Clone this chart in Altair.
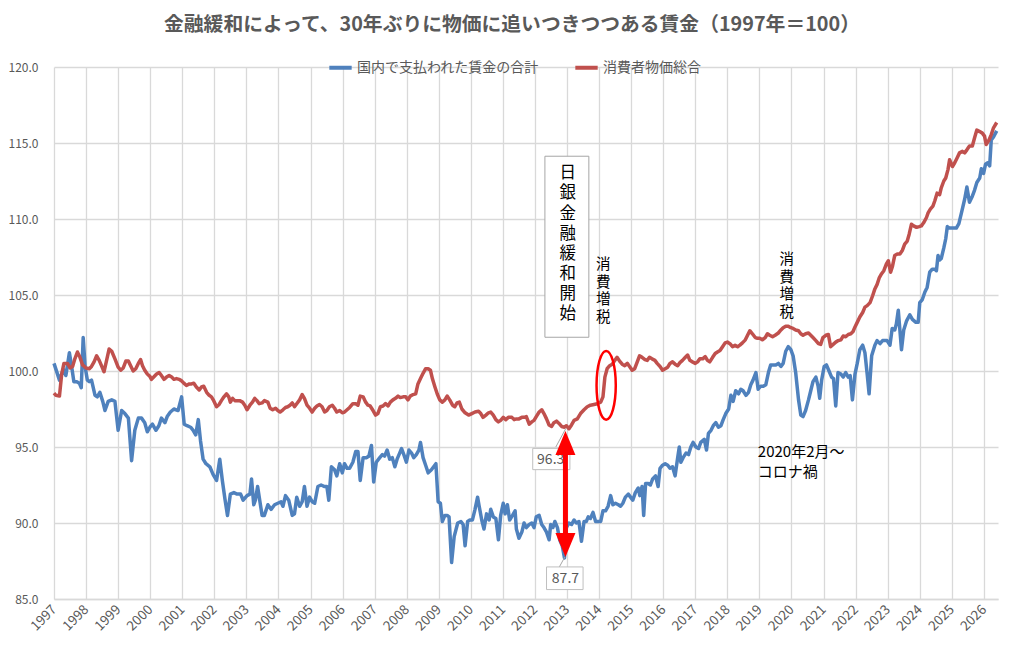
import altair as alt
import pandas as pd

FONT = "Noto Sans CJK JP"
GRID = "#d9d9d9"
TXT = "#595959"

# series (decimal year, index 1997=100)
wage_t = [
    1997.00, 1997.17, 1997.29, 1997.37, 1997.48, 1997.55, 1997.62, 1997.71, 1997.79, 1997.85,
    1997.91, 1997.97, 1998.04, 1998.10, 1998.17, 1998.28, 1998.35, 1998.43, 1998.52, 1998.59,
    1998.69, 1998.80, 1998.90, 1999.00, 1999.11, 1999.21, 1999.32, 1999.42, 1999.52, 1999.63,
    1999.73, 1999.83, 1999.91, 1999.99, 2000.07, 2000.18, 2000.27, 2000.35, 2000.46, 2000.53,
    2000.63, 2000.74, 2000.87, 2000.98, 2001.06, 2001.15, 2001.26, 2001.34, 2001.42, 2001.50,
    2001.57, 2001.65, 2001.74, 2001.86, 2001.96, 2002.07, 2002.17, 2002.25, 2002.33, 2002.41,
    2002.50, 2002.61, 2002.71, 2002.82, 2002.90, 2003.02, 2003.11, 2003.16, 2003.23, 2003.28,
    2003.35, 2003.43, 2003.49, 2003.56, 2003.67, 2003.77, 2003.88, 2003.98, 2004.08, 2004.14,
    2004.22, 2004.32, 2004.43, 2004.50, 2004.57, 2004.66, 2004.74, 2004.81, 2004.89, 2004.97,
    2005.05, 2005.13, 2005.23, 2005.33, 2005.44, 2005.51, 2005.57, 2005.65, 2005.75, 2005.82,
    2005.91, 2005.99, 2006.06, 2006.14, 2006.22, 2006.32, 2006.41, 2006.48, 2006.55, 2006.64,
    2006.74, 2006.82, 2006.90, 2006.97, 2007.05, 2007.16, 2007.24, 2007.31, 2007.39, 2007.47,
    2007.55, 2007.63, 2007.70, 2007.78, 2007.84, 2007.91, 2007.99, 2008.07, 2008.15, 2008.22,
    2008.30, 2008.38, 2008.43, 2008.51, 2008.59, 2008.67, 2008.77, 2008.84, 2008.91, 2008.98,
    2009.05, 2009.11, 2009.19, 2009.26, 2009.32, 2009.40, 2009.48, 2009.59, 2009.69, 2009.76,
    2009.82, 2009.90, 2009.97, 2010.05, 2010.13, 2010.21, 2010.26, 2010.34, 2010.41, 2010.49,
    2010.57, 2010.62, 2010.70, 2010.78, 2010.86, 2010.93, 2011.01, 2011.07, 2011.14, 2011.21,
    2011.30, 2011.38, 2011.42, 2011.50, 2011.59, 2011.66, 2011.73, 2011.82, 2011.90, 2011.97,
    2012.04, 2012.13, 2012.21, 2012.28, 2012.36, 2012.44, 2012.49, 2012.56, 2012.62, 2012.70,
    2012.77, 2012.85, 2012.92, 2012.98, 2013.06, 2013.14, 2013.22, 2013.29, 2013.37, 2013.45,
    2013.53, 2013.60, 2013.66, 2013.73, 2013.81, 2013.89, 2013.97, 2014.05, 2014.12, 2014.20,
    2014.28, 2014.36, 2014.43, 2014.51, 2014.60, 2014.67, 2014.74, 2014.82, 2014.91, 2014.98,
    2015.05, 2015.13, 2015.22, 2015.27, 2015.34, 2015.39, 2015.45, 2015.53, 2015.60, 2015.67,
    2015.76, 2015.84, 2015.90, 2015.98, 2016.06, 2016.14, 2016.21, 2016.29, 2016.37, 2016.45,
    2016.50, 2016.55, 2016.62, 2016.71, 2016.79, 2016.86, 2016.93, 2017.02, 2017.10, 2017.17,
    2017.28, 2017.35, 2017.41, 2017.49, 2017.56, 2017.64, 2017.72, 2017.80, 2017.87, 2017.95,
    2018.04, 2018.11, 2018.18, 2018.26, 2018.35, 2018.42, 2018.49, 2018.58, 2018.66, 2018.73,
    2018.80, 2018.89, 2018.96, 2019.04, 2019.12, 2019.20, 2019.28, 2019.35, 2019.43, 2019.51,
    2019.59, 2019.67, 2019.74, 2019.82, 2019.90, 2019.98, 2020.05, 2020.13, 2020.22, 2020.29,
    2020.36, 2020.44, 2020.53, 2020.60, 2020.67, 2020.76, 2020.83, 2020.88, 2020.94, 2021.02,
    2021.09, 2021.17, 2021.25, 2021.31, 2021.38, 2021.45, 2021.54, 2021.61, 2021.69, 2021.77,
    2021.83, 2021.90, 2021.98, 2022.05, 2022.13, 2022.22, 2022.29, 2022.36, 2022.42, 2022.50,
    2022.60, 2022.67, 2022.76, 2022.84, 2022.91, 2022.98, 2023.07, 2023.14, 2023.22, 2023.27,
    2023.33, 2023.38, 2023.43, 2023.50, 2023.59, 2023.69, 2023.77, 2023.88, 2023.95, 2024.00,
    2024.08, 2024.16, 2024.23, 2024.31, 2024.39, 2024.47, 2024.52, 2024.57, 2024.62, 2024.67,
    2024.75, 2024.81, 2024.86, 2024.93, 2025.04, 2025.14, 2025.22, 2025.30, 2025.40, 2025.47,
    2025.55, 2025.64, 2025.71, 2025.78, 2025.87, 2025.92, 2025.99, 2026.05, 2026.12, 2026.18,
    2026.23, 2026.30, 2026.40,
]
wage_v = [
    100.5, 99.4, 100.1, 99.7, 101.2, 100.3, 99.3, 99.3, 99.2, 98.9,
    102.2, 100.3, 99.4, 99.3, 99.4, 98.4, 98.3, 98.6, 98.0, 97.4,
    98.0, 98.1, 98.0, 96.1, 97.4, 97.2, 96.9, 94.1, 96.1, 96.9,
    96.9, 96.6, 96.0, 96.3, 96.5, 96.1, 96.4, 96.9, 96.6, 97.0,
    97.3, 97.5, 97.4, 98.3, 96.5, 96.4, 96.3, 96.1, 95.8, 96.8,
    95.4, 94.2, 93.9, 93.7, 93.2, 92.8, 94.2, 92.8, 91.6, 90.5,
    91.9, 92.0, 91.9, 91.9, 91.5, 91.8, 91.9, 92.9, 91.2, 91.5,
    92.4, 91.3, 90.5, 90.5, 91.2, 90.9, 91.2, 91.3, 91.4, 91.1,
    91.8, 91.5, 90.5, 90.6, 91.7, 91.1, 91.4, 92.4, 91.1, 91.7,
    91.4, 91.3, 92.4, 92.5, 92.4, 92.4, 91.5, 93.7, 93.5, 93.1,
    93.9, 93.3, 93.9, 93.6, 93.6, 94.0, 94.7, 94.7, 92.8, 94.3,
    94.3, 94.4, 95.1, 92.7, 94.0, 94.3, 94.5, 94.4, 94.8, 94.2,
    94.3, 93.7, 94.2, 94.6, 94.9, 94.5, 94.0, 94.8, 94.6, 94.3,
    94.5, 94.8, 95.3, 94.3, 93.8, 93.3, 93.5, 93.7, 93.9, 91.4,
    91.3, 90.1, 90.5, 90.5, 90.4, 87.4, 89.1, 90.0, 90.1, 89.9,
    88.5, 90.1, 90.2, 90.2, 90.9, 91.7, 91.1, 90.2, 89.6, 90.6,
    90.2, 90.9, 90.4, 90.3, 88.9, 90.5, 91.3, 90.6, 91.2, 90.2,
    90.5, 90.8, 89.6, 89.0, 89.4, 90.0, 89.7, 89.9, 90.0, 89.7,
    90.4, 90.5, 89.9, 89.7, 89.4, 88.9, 89.9, 89.7, 90.1, 89.7,
    88.9, 88.5, 87.7, 89.7, 90.0, 89.9, 90.2, 90.0, 90.1, 88.8,
    90.1, 90.1, 90.4, 90.3, 90.7, 90.1, 90.1, 90.1, 90.8, 90.8,
    91.1, 91.8, 91.2, 91.3, 91.2, 91.1, 91.3, 91.7, 91.9, 91.7,
    91.5, 92.0, 92.3, 91.8, 92.4, 90.5, 92.6, 92.6, 92.5, 92.9,
    93.1, 92.4, 93.6, 93.8, 93.9, 93.8, 93.6, 93.7, 93.1, 94.3,
    95.0, 94.0, 94.3, 94.6, 94.5, 95.0, 95.3, 95.0, 94.9, 95.3,
    95.5, 94.8, 95.9, 96.1, 96.4, 96.6, 96.3, 96.4, 96.8, 97.2,
    97.5, 98.4, 98.0, 98.7, 98.5, 98.8, 98.7, 98.4, 98.6, 99.1,
    99.4, 99.9, 98.8, 99.0, 99.0, 99.1, 99.9, 100.4, 100.4, 100.4,
    100.5, 100.3, 100.5, 101.3, 101.6, 101.4, 101.0, 99.9, 98.1, 97.1,
    97.0, 97.4, 98.1, 98.7, 99.3, 99.6, 99.0, 98.2, 99.4, 100.3,
    100.4, 100.0, 99.6, 99.5, 97.7, 99.9, 99.8, 99.6, 99.9, 99.6,
    99.7, 98.1, 99.8, 100.5, 101.4, 101.7, 101.2, 99.8, 98.5, 101.0,
    101.7, 102.0, 101.8, 102.0, 102.0, 102.0, 101.7, 102.8, 102.7, 103.1,
    104.0, 102.7, 101.4, 102.7, 103.3, 103.7, 103.4, 103.2, 103.2, 104.5,
    104.7, 105.2, 105.5, 106.5, 106.7, 106.7, 106.6, 107.6, 107.3, 107.4,
    108.1, 108.7, 109.5, 109.4, 109.4, 109.4, 109.7, 110.4, 111.3, 112.1,
    111.1, 111.5, 111.9, 112.4, 112.7, 113.3, 113.0, 113.6, 113.7, 113.5,
    115.2, 115.4, 115.8,
]

cpi_t = [
    1997.00, 1997.06, 1997.17, 1997.24, 1997.31, 1997.42, 1997.50, 1997.58, 1997.65, 1997.73,
    1997.81, 1997.89, 1998.00, 1998.10, 1998.17, 1998.25, 1998.33, 1998.41, 1998.49, 1998.56,
    1998.64, 1998.72, 1998.80, 1998.90, 1999.00, 1999.08, 1999.16, 1999.24, 1999.32, 1999.39,
    1999.47, 1999.55, 1999.63, 1999.70, 1999.76, 1999.83, 1999.91, 1999.99, 2000.04, 2000.11,
    2000.20, 2000.28, 2000.35, 2000.43, 2000.51, 2000.59, 2000.67, 2000.74, 2000.82, 2000.90,
    2000.98, 2001.05, 2001.13, 2001.22, 2001.29, 2001.36, 2001.44, 2001.53, 2001.60, 2001.67,
    2001.76, 2001.84, 2001.91, 2001.98, 2002.07, 2002.15, 2002.22, 2002.30, 2002.38, 2002.45,
    2002.50, 2002.57, 2002.64, 2002.71, 2002.79, 2002.88, 2002.95, 2003.02, 2003.11, 2003.19,
    2003.26, 2003.33, 2003.40, 2003.49, 2003.56, 2003.67, 2003.74, 2003.82, 2003.91, 2003.98,
    2004.05, 2004.14, 2004.22, 2004.29, 2004.36, 2004.43, 2004.50, 2004.57, 2004.66, 2004.74,
    2004.81, 2004.89, 2004.97, 2005.05, 2005.13, 2005.20, 2005.28, 2005.36, 2005.44, 2005.51,
    2005.59, 2005.68, 2005.75, 2005.82, 2005.91, 2005.99, 2006.06, 2006.14, 2006.22, 2006.32,
    2006.41, 2006.48, 2006.55, 2006.64, 2006.72, 2006.79, 2006.86, 2006.95, 2007.03, 2007.10,
    2007.18, 2007.26, 2007.34, 2007.42, 2007.49, 2007.57, 2007.65, 2007.73, 2007.80, 2007.89,
    2007.97, 2008.04, 2008.11, 2008.20, 2008.28, 2008.35, 2008.43, 2008.51, 2008.59, 2008.67,
    2008.74, 2008.80, 2008.88, 2008.95, 2009.03, 2009.11, 2009.19, 2009.26, 2009.34, 2009.43,
    2009.50, 2009.57, 2009.64, 2009.72, 2009.82, 2009.93, 2010.03, 2010.13, 2010.24, 2010.31,
    2010.38, 2010.47, 2010.55, 2010.62, 2010.70, 2010.78, 2010.86, 2010.93, 2011.01, 2011.09,
    2011.17, 2011.28, 2011.35, 2011.42, 2011.50, 2011.59, 2011.66, 2011.73, 2011.82, 2011.90,
    2011.97, 2012.04, 2012.13, 2012.21, 2012.28, 2012.36, 2012.44, 2012.52, 2012.59, 2012.67,
    2012.75, 2012.83, 2012.92, 2012.98, 2013.06, 2013.14, 2013.22, 2013.32, 2013.42, 2013.53,
    2013.63, 2013.73, 2013.84, 2013.94, 2014.05, 2014.12, 2014.18, 2014.25, 2014.33, 2014.41,
    2014.49, 2014.56, 2014.64, 2014.72, 2014.80, 2014.88, 2014.95, 2015.03, 2015.11, 2015.19,
    2015.26, 2015.34, 2015.43, 2015.50, 2015.57, 2015.65, 2015.74, 2015.81, 2015.90, 2015.98,
    2016.06, 2016.14, 2016.21, 2016.29, 2016.37, 2016.45, 2016.52, 2016.60, 2016.69, 2016.76,
    2016.83, 2016.91, 2017.00, 2017.07, 2017.14, 2017.23, 2017.31, 2017.38, 2017.45, 2017.54,
    2017.62, 2017.69, 2017.77, 2017.85, 2017.93, 2018.00, 2018.08, 2018.16, 2018.24, 2018.32,
    2018.39, 2018.47, 2018.56, 2018.63, 2018.70, 2018.78, 2018.87, 2018.94, 2019.01, 2019.09,
    2019.18, 2019.25, 2019.32, 2019.41, 2019.49, 2019.59, 2019.67, 2019.74, 2019.82, 2019.90,
    2019.98, 2020.05, 2020.13, 2020.22, 2020.29, 2020.36, 2020.44, 2020.53, 2020.60, 2020.67,
    2020.76, 2020.84, 2020.91, 2020.98, 2021.07, 2021.15, 2021.22, 2021.30, 2021.38, 2021.46,
    2021.54, 2021.61, 2021.69, 2021.77, 2021.85, 2021.92, 2021.98, 2022.05, 2022.13, 2022.22,
    2022.29, 2022.36, 2022.45, 2022.53, 2022.60, 2022.67, 2022.74, 2022.81, 2022.88, 2022.96,
    2023.02, 2023.09, 2023.15, 2023.22, 2023.30, 2023.38, 2023.46, 2023.53, 2023.61, 2023.67,
    2023.74, 2023.81, 2023.90, 2023.98, 2024.05, 2024.12, 2024.21, 2024.26, 2024.33, 2024.41,
    2024.47, 2024.54, 2024.62, 2024.67, 2024.75, 2024.81, 2024.88, 2024.93, 2025.02, 2025.09,
    2025.16, 2025.24, 2025.33, 2025.40, 2025.47, 2025.55, 2025.64, 2025.71, 2025.78, 2025.87,
    2025.95, 2026.02, 2026.07, 2026.16, 2026.23, 2026.30, 2026.40,
]
cpi_v = [
    98.55, 98.4, 98.35, 99.8, 100.5, 100.5, 100.2, 100.3, 100.8, 101.25,
    100.9, 100.4, 100.2, 100.15, 100.3, 100.6, 101.0, 100.7, 100.3, 99.95,
    100.7, 101.45, 101.3, 100.8, 100.25, 100.05, 100.2, 100.65, 100.65, 100.35,
    100.0, 100.15, 100.5, 100.75, 100.35, 100.05, 99.8, 99.65, 99.45, 99.6,
    99.8, 99.9, 99.7, 99.45, 99.6, 99.7, 99.6, 99.45, 99.5, 99.45,
    99.35, 99.2, 99.05, 99.15, 99.15, 99.2, 98.95, 98.75, 98.95, 99.0,
    98.6, 98.4, 98.3, 98.05, 97.65, 97.8, 98.05, 98.3, 98.5, 98.3,
    97.95, 98.2, 98.05, 98.05, 98.05, 97.95, 97.75, 97.45, 97.75, 97.95,
    98.2, 98.05, 97.85, 97.9, 98.05, 97.95, 97.55, 97.45, 97.55, 97.4,
    97.3, 97.45, 97.6, 97.65, 97.75, 97.9, 97.65, 97.85, 98.1, 98.45,
    98.2, 97.75, 97.55, 97.3, 97.55, 97.7, 97.8, 97.65, 97.3, 97.4,
    97.65, 97.75, 97.55, 97.3, 97.4, 97.25, 97.3, 97.45, 97.6, 97.85,
    97.85, 97.75, 98.35, 98.3, 97.95, 97.75, 97.7, 97.4, 97.1, 97.2,
    97.65, 97.7, 97.85, 97.7, 97.95, 98.1, 98.2, 98.35, 98.25, 98.3,
    98.3, 98.1, 98.35, 98.45, 98.5, 99.15, 99.5, 99.85, 100.15, 100.15,
    100.05, 99.5, 98.95, 98.5, 98.1, 97.95, 98.1, 98.35, 98.1, 97.75,
    97.65, 97.9, 97.95, 97.5, 97.25, 97.1, 97.2, 97.3, 97.35, 97.2,
    96.95, 97.1, 97.25, 97.3, 97.1, 96.8, 96.65, 96.75, 96.95, 96.8,
    96.95, 96.95, 96.8, 96.85, 96.85, 96.95, 96.95, 97.0, 96.5, 96.65,
    96.75, 97.0, 97.3, 97.45, 97.2, 96.85, 96.45, 96.35, 96.6, 96.7,
    96.55, 96.35, 96.3, 96.4, 96.2, 96.45, 96.75, 96.85, 97.2, 97.45,
    97.65, 97.75, 97.8, 97.85, 97.95, 98.3, 99.6, 100.15, 100.35, 100.45,
    100.7, 100.9, 100.65, 100.45, 100.35, 100.5, 100.3, 100.05, 100.15, 100.6,
    101.0, 100.9, 100.75, 100.7, 100.9, 100.8, 100.7, 100.5, 100.3, 100.05,
    100.15, 100.25, 100.5, 100.6, 100.45, 100.35, 100.55, 100.7, 100.9, 101.05,
    100.7, 100.6, 100.5, 100.6, 100.8, 100.8, 100.95, 100.7, 100.6, 100.9,
    101.15, 101.25, 101.35, 101.6, 101.85, 101.9, 101.8, 101.6, 101.7, 101.6,
    101.7, 101.85, 102.05, 102.35, 102.65, 102.45, 102.2, 102.15, 102.15, 102.05,
    102.2, 102.45, 102.35, 102.25, 102.35, 102.5, 102.7, 102.85, 102.95, 102.95,
    102.85, 102.8, 102.7, 102.65, 102.45, 102.35, 102.45, 102.5, 102.35, 102.2,
    102.0, 101.8, 101.75, 102.2, 102.35, 102.4, 101.6, 101.75, 101.9, 102.0,
    102.05, 102.3, 102.25, 102.4, 102.45, 102.6, 102.9, 103.2, 103.55, 103.85,
    104.2, 104.3, 104.5, 104.95, 105.4, 105.7, 106.15, 106.4, 106.6, 107.05,
    107.25, 106.5, 106.9, 107.6, 107.7, 107.7, 107.95, 108.35, 108.55, 109.0,
    109.65, 109.55, 109.45, 109.5, 109.55, 109.75, 110.1, 110.4, 110.65, 110.85,
    111.2, 111.7, 111.6, 112.05, 112.5, 112.7, 113.25, 113.9, 113.45, 113.7,
    114.0, 114.35, 114.45, 114.35, 114.55, 114.8, 114.8, 115.35, 115.85, 115.75,
    115.65, 115.45, 114.9, 115.2, 115.55, 116.0, 116.35,
]

series = ["国内で支払われた賃金の合計", "消費者物価総合"]
series_colors = ["#4F81BD", "#C0504D"]
years = list(range(1997, 2027))
y_ticks = [85, 90, 95, 100, 105, 110, 115, 120]

# annotations, in data units (y of a multi-line text is its first line)
bank_label = "日\n銀\n金\n融\n緩\n和\n開\n始"
tax_label = "消\n費\n増\n税"
corona_label = "2020年2月～\nコロナ禍"
point_labels = ["96.3", "87.7"]

df = pd.concat([
    pd.DataFrame({"t": wage_t, "v": wage_v, "series": series[0]}),
    pd.DataFrame({"t": cpi_t, "v": cpi_v, "series": series[1]}),
])

x_scale = alt.Scale(domain=[1997, 2026.44], nice=False, zero=False)
y_scale = alt.Scale(domain=[85, 120], nice=False, zero=False)
x_axis = alt.Axis(values=years, format="d", labelAngle=-45, labelAlign="right",
                  labelBaseline="middle", labelPadding=8, labelFlush=False,
                  labelOverlap=False, labelFontSize=13.5, labelColor=TXT, labelFont=FONT,
                  grid=True, gridColor=GRID, gridWidth=1.3, domainColor=GRID,
                  domainWidth=1.3, ticks=False)
y_axis = alt.Axis(values=y_ticks, format=".1f", labelFontSize=12, labelColor=TXT,
                  labelFont=FONT, labelPadding=16, grid=True, gridColor=GRID,
                  gridWidth=1.3, domain=False, ticks=False)


def ex(field):
    # every layer carries the same x axis so the merged axis keeps all year labels
    return alt.X(f"{field}:Q", title=None, scale=x_scale, axis=x_axis)


def ey(field):
    return alt.Y(f"{field}:Q", title=None, scale=y_scale, axis=y_axis)


lines = alt.Chart(df).mark_line(strokeWidth=3.5, strokeJoin="round").encode(
    x=ex("t"),
    y=ey("v"),
    color=alt.Color("series:N", sort=series,
                    scale=alt.Scale(domain=series, range=series_colors),
                    legend=alt.Legend(title=None, orient="none", legendX=273, legendY=-13,
                                      direction="horizontal", symbolType="stroke",
                                      symbolStrokeWidth=4, symbolSize=500, labelFontSize=14,
                                      labelColor=TXT, labelFont=FONT, labelLimit=0,
                                      columnPadding=28, labelOffset=3, padding=0)),
)

# text box with the vertical label
box_df = pd.DataFrame({"t0": [2012.31], "t1": [2013.68], "v0": [102.22], "v1": [114.13]})
bank_box = alt.Chart(box_df).mark_rect(fill="white", stroke="#a6a6a6", strokeWidth=1).encode(
    x=ex("t0"), x2="t1", y=ey("v0"), y2="v1")

bank_df = pd.DataFrame({"t": [2013.02], "v": [113.0], "label": [bank_label]})
bank_text = alt.Chart(bank_df).mark_text(
    font=FONT, fontSize=16.5, lineHeight=20.1, lineBreak="\n", color="black",
    align="center", baseline="middle").encode(x=ex("t"), y=ey("v"), text="label:N")

tax_df = pd.DataFrame({"t": [2014.13, 2019.85], "v": [106.95, 107.3],
                       "label": [tax_label, tax_label]})
tax_text = alt.Chart(tax_df).mark_text(
    font=FONT, fontSize=14.5, lineHeight=17.5, lineBreak="\n", color="black",
    align="center", baseline="middle").encode(x=ex("t"), y=ey("v"), text="label:N")

corona_df = pd.DataFrame({"t": [2018.95], "v": [94.65], "label": [corona_label]})
corona_text = alt.Chart(corona_df).mark_text(
    font=FONT, fontSize=15, lineHeight=20, lineBreak="\n", color="black",
    align="left", baseline="middle").encode(x=ex("t"), y=ey("v"), text="label:N")

# data labels for the two extreme points
leader_df = pd.DataFrame({"t0": [2012.65, 2012.76], "t1": [2012.96, 2012.93],
                          "v0": [95.0, 87.11], "v1": [96.21, 87.76]})
leaders = alt.Chart(leader_df).mark_rule(color="#a6a6a6", strokeWidth=1).encode(
    x=ex("t0"), x2="t1", y=ey("v0"), y2="v1")

lab_box_df = pd.DataFrame({"t0": [2011.93, 2012.36], "t1": [2013.09, 2013.50],
                           "v0": [93.51, 85.62], "v1": [94.91, 87.11]})
lab_boxes = alt.Chart(lab_box_df).mark_rect(fill="white", stroke="#bfbfbf", strokeWidth=1).encode(
    x=ex("t0"), x2="t1", y=ey("v0"), y2="v1")

lab_df = pd.DataFrame({"t": [2012.49, 2012.95], "v": [94.15, 86.34], "label": point_labels})
lab_text = alt.Chart(lab_df).mark_text(
    font=FONT, fontSize=14, color=TXT, align="center", baseline="middle").encode(
    x=ex("t"), y=ey("v"), text="label:N")

# red double arrow between 96.3 and 87.7
shaft_df = pd.DataFrame({"t": [2012.95], "v0": [95.0], "v1": [88.8]})
shaft = alt.Chart(shaft_df).mark_rule(color="#ff0000", strokeWidth=5).encode(
    x=ex("t"), y=ey("v0"), y2="v1")

head_up = "M0,-1L0.833,1L-0.833,1Z"
head_down = "M0,1L0.833,-1L-0.833,-1Z"
head_df = pd.DataFrame({"t": [2012.95, 2012.95], "v": [95.26, 88.55], "dir": ["up", "down"]})
heads = alt.Chart(head_df).mark_point(filled=True, color="#ff0000", opacity=1, size=576).encode(
    x=ex("t"), y=ey("v"),
    shape=alt.Shape("dir:N", scale=alt.Scale(domain=["up", "down"], range=[head_up, head_down]),
                    legend=None))

# red ellipse around the 2014 tax step
ellipse = ("M0,-1C0.155,-1,0.28,-0.552,0.28,0C0.28,0.552,0.155,1,0,1"
           "C-0.155,1,-0.28,0.552,-0.28,0C-0.28,-0.552,-0.155,-1,0,-1Z")
ell_df = pd.DataFrame({"t": [2014.22], "v": [99.06]})
ring = alt.Chart(ell_df).mark_point(shape=ellipse, filled=False, stroke="#ff0000",
                                    strokeWidth=2.5, opacity=1, size=4720).encode(
    x=ex("t"), y=ey("v"))

chart = alt.layer(
    lines, leaders, lab_boxes, lab_text, bank_box, bank_text, tax_text, corona_text,
    shaft, heads, ring,
).properties(
    width=944,
    height=532,
    padding={"left": 46, "top": 59, "right": 18, "bottom": 65},
    autosize=alt.AutoSizeParams(type="none"),
    title=alt.Title("金融緩和によって、30年ぶりに物価に追いつきつつある賃金（1997年＝100）",
                    font=FONT, fontSize=19.8, fontWeight="bold", color=TXT, anchor="middle",
                    frame="group", offset=19, dx=-14),
).configure_view(
    stroke=None
).configure_axisX(
    labelOverlap=False
)

chart.save("out.html", embed_options={"renderer": "svg", "actions": False})
